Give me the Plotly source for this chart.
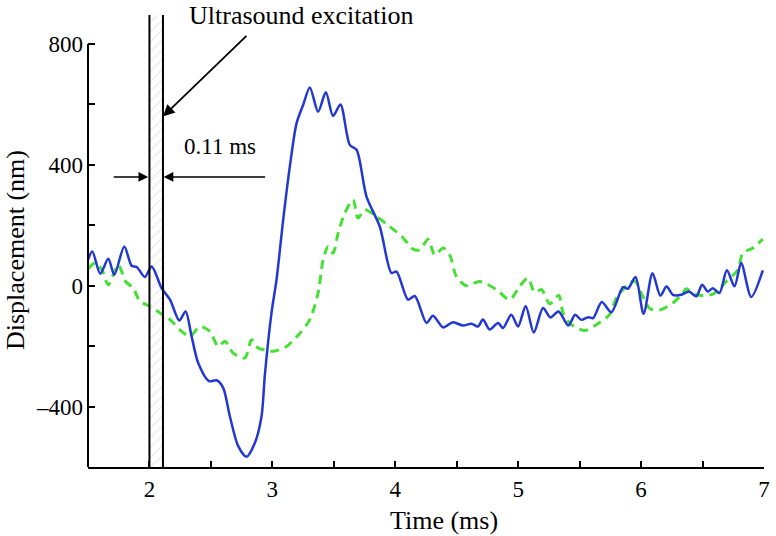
import plotly.graph_objects as go

# ---- data ----
time_blue = [1.50, 1.535, 1.60, 1.665, 1.714, 1.795, 1.855, 1.896, 1.963, 2.018,
             2.099, 2.167, 2.243, 2.294, 2.343, 2.397, 2.484, 2.546, 2.60, 2.654,
             2.722, 2.790, 2.858, 2.912, 2.939, 2.993, 3.034, 3.088, 3.142, 3.197,
             3.25, 3.305, 3.372, 3.435, 3.494, 3.554, 3.63, 3.685, 3.766, 3.874,
             3.969, 4.01, 4.104, 4.159, 4.254, 4.307, 4.389, 4.47, 4.551, 4.619,
             4.673, 4.713, 4.768, 4.836, 4.876, 4.944, 4.999, 5.061, 5.127, 5.202,
             5.263, 5.328, 5.409, 5.463, 5.514, 5.57, 5.61, 5.68, 5.758, 5.853,
             5.893, 5.955, 6.02, 6.093, 6.157, 6.207, 6.259, 6.327, 6.389, 6.449,
             6.497, 6.543, 6.584, 6.638, 6.698, 6.76, 6.814, 6.896, 6.99]
disp_blue = [86, 113, 40, 89, 36, 130, 66, 62, 29, 64,
             -8, -46, -115, -85, -168, -256, -316, -313, -338, -432,
             -531, -566, -520, -432, -295, -90, 20, 218, 394, 538,
             598, 656, 576, 640, 562, 600, 466, 450, 295, 196,
             42, 47, -46, -34, -123, -99, -138, -121, -132, -126,
             -135, -112, -145, -123, -140, -96, -135, -67, -155, -74,
             -105, -85, -132, -96, -113, -104, -107, -54, -88, -5,
             -10, 29, -93, 41, -33, -3, -30, -30, -19, -35,
             3, -19, -8, -24, 51, -2, 75, -37, 51]

time_green = [1.50, 1.557, 1.611, 1.665, 1.746, 1.806, 1.868, 1.923, 2.004, 2.085,
              2.167, 2.262, 2.329, 2.41, 2.492, 2.559, 2.614, 2.681, 2.776, 2.831,
              2.885, 2.939, 3.007, 3.115, 3.224, 3.305, 3.372, 3.413, 3.454, 3.494,
              3.535, 3.589, 3.657, 3.697, 3.752, 3.847, 3.955, 4.064, 4.145, 4.2,
              4.267, 4.321, 4.389, 4.443, 4.497, 4.578, 4.687, 4.823, 4.931, 5.012,
              5.08, 5.134, 5.19, 5.256, 5.33, 5.365, 5.433, 5.545, 5.636, 5.744,
              5.80, 5.907, 5.95, 6.002, 6.069, 6.15, 6.259, 6.34, 6.367, 6.449,
              6.584, 6.693, 6.787, 6.828, 6.91, 6.99]
disp_green = [55, 75, 55, 3, 69, 14, -8, -52, -68, -90,
              -112, -151, -168, -135, -151, -201, -184, -223, -239, -179,
              -206, -212, -217, -201, -157, -112, -24, 86, 130, 108,
              174, 240, 284, 224, 251, 229, 196, 158, 121, 119,
              154, 102, 125, 102, 31, 0, 14, -13, -46, -2,
              25, -22, -13, -60, -32, -90, -129, -148, -129, -95,
              -40, 9, 15, -25, -75, -80, -57, -24, -10, -30,
              -28, 14, 53, 108, 125, 154]

excitation_start = 2.0   # ms
excitation_width = 0.11  # ms
excitation_end = excitation_start + excitation_width

x_tick_vals = [2, 3, 4, 5, 6, 7]
x_tick_text = ["2", "3", "4", "5", "6", "7"]
y_tick_vals = [-400, 0, 400, 800]
y_tick_text = ["\u2013400", "0", "400", "800"]

X_RANGE = [1.5, 7.0]
Y_RANGE = [-600, 896]
Y_AXIS_TOP = 800

FONT = "Liberation Serif, Times New Roman, serif"
BLUE = "#2238d2"
GREEN = "#46e035"

fig = go.Figure()

# hatched excitation window
fig.add_trace(go.Scatter(
    x=[excitation_start, excitation_end, excitation_end, excitation_start, excitation_start],
    y=[Y_RANGE[0], Y_RANGE[0], Y_RANGE[1], Y_RANGE[1], Y_RANGE[0]],
    mode="lines", fill="toself", fillcolor="white",
    fillpattern=dict(shape="/", fgcolor="#d6d6d6", bgcolor="white", size=7, solidity=0.2),
    line=dict(width=0, color="rgba(0,0,0,0)"),
    hoverinfo="skip", showlegend=False,
))

fig.add_trace(go.Scatter(
    x=time_green, y=disp_green, mode="lines",
    line=dict(color=GREEN, width=3, dash="9px,6px", shape="spline", smoothing=0.8),
    showlegend=False,
))
fig.add_trace(go.Scatter(
    x=time_blue, y=disp_blue, mode="lines",
    line=dict(color=BLUE, width=2.5, shape="spline", smoothing=0.8),
    showlegend=False,
))

# vertical excitation boundaries
for xv in (excitation_start, excitation_end):
    fig.add_shape(type="line", xref="x", yref="y", x0=xv, x1=xv,
                  y0=Y_RANGE[0], y1=Y_RANGE[1], line=dict(color="black", width=2))

# left axis line (ends at 800)
fig.add_shape(type="line", xref="paper", yref="y", x0=0, x1=0,
              y0=Y_RANGE[0], y1=Y_AXIS_TOP, line=dict(color="black", width=2))

# annotations
fig.add_annotation(x=excitation_end, y=560, xref="x", yref="y", text="",
                   showarrow=True, ax=85, ay=-82, arrowhead=2, arrowsize=1.3,
                   arrowwidth=1.8, arrowcolor="black")
fig.add_annotation(x=excitation_start - 0.01, y=360, xref="x", yref="y", text="",
                   showarrow=True, ax=-36, ay=0, arrowhead=2, arrowsize=1.3,
                   arrowwidth=1.5, arrowcolor="black")
fig.add_annotation(x=excitation_end + 0.005, y=360, xref="x", yref="y", text="",
                   showarrow=True, ax=103, ay=0, arrowhead=2, arrowsize=1.3,
                   arrowwidth=1.5, arrowcolor="black")
fig.add_annotation(x=0.1464, y=1.0, xref="paper", yref="paper",
                   text="Ultrasound excitation", showarrow=False,
                   xanchor="left", yanchor="middle",
                   font=dict(family=FONT, size=26, color="black"))
fig.add_annotation(x=0.139, y=0.708, xref="paper", yref="paper",
                   text="0.11 ms", showarrow=False,
                   xanchor="left", yanchor="middle",
                   font=dict(family=FONT, size=23, color="black"))
fig.add_annotation(x=0.527, y=-0.119, xref="paper", yref="paper",
                   text="Time (ms)", showarrow=False,
                   xanchor="center", yanchor="middle",
                   font=dict(family=FONT, size=26, color="black"))
fig.add_annotation(x=-0.108, y=0.48, xref="paper", yref="paper",
                   text="Displacement (nm)", showarrow=False, textangle=-90,
                   xanchor="center", yanchor="middle",
                   font=dict(family=FONT, size=26, color="black"))

fig.update_layout(
    width=776, height=536,
    margin=dict(l=88, r=12, t=15, b=69),
    paper_bgcolor="white", plot_bgcolor="white",
    font=dict(family=FONT, size=23, color="black"),
    showlegend=False,
    xaxis=dict(
        range=X_RANGE, showgrid=False, zeroline=False, automargin=False,
        showline=True, linecolor="black", linewidth=2,
        tickmode="array", tickvals=x_tick_vals, ticktext=x_tick_text,
        ticks="inside", ticklen=6, tickwidth=1.5, tickcolor="black",
        minor=dict(dtick=0.5, tick0=1.5, ticks="inside", ticklen=6,
                   tickwidth=1.5, tickcolor="black"),
        tickfont=dict(family=FONT, size=23, color="black"),
    ),
    yaxis=dict(
        range=Y_RANGE, showgrid=False, zeroline=False, showline=False, automargin=False,
        tickmode="array", tickvals=y_tick_vals, ticktext=y_tick_text,
        ticks="inside", ticklen=7, tickwidth=1.5, tickcolor="black",
        minor=dict(dtick=200, tick0=0, ticks="inside", ticklen=7,
                   tickwidth=1.5, tickcolor="black"),
        tickfont=dict(family=FONT, size=23, color="black"),
        ticklabelstandoff=4,
    ),
)

fig.write_html(
    "out.html",
    config={"displayModeBar": False},
    post_script="document.body.style.margin='0';document.body.style.padding='0';",
)
